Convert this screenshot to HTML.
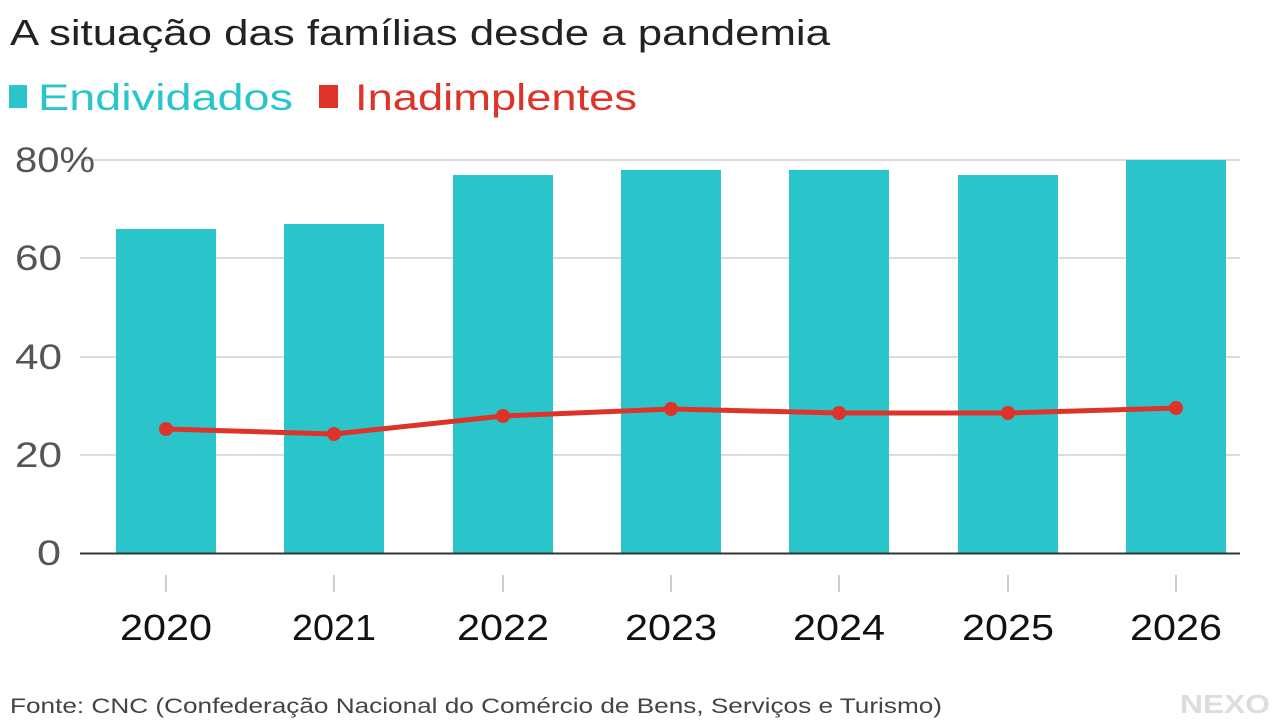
<!DOCTYPE html>
<html><head><meta charset="utf-8"><style>
html,body{margin:0;padding:0;background:#fff;width:1280px;height:720px;overflow:hidden}
svg{display:block}
text{font-family:"Liberation Sans",sans-serif}
</style></head><body>
<svg width="1280" height="720" viewBox="0 0 1280 720" xmlns="http://www.w3.org/2000/svg">
<text x="10" y="45" font-size="36" fill="#222" textLength="820" lengthAdjust="spacingAndGlyphs">A situação das famílias desde a pandemia</text>
<rect x="9" y="85" width="18" height="23" fill="#29c5cb"/>
<text x="38" y="110" font-size="37" fill="#29c5cb" textLength="255" lengthAdjust="spacingAndGlyphs">Endividados</text>
<rect x="319" y="85" width="19" height="23" fill="#dd3329"/>
<text x="355" y="110" font-size="37" fill="#dd3329" textLength="282" lengthAdjust="spacingAndGlyphs">Inadimplentes</text>
<g stroke="#dcdcdc" stroke-width="2">
<line x1="80" y1="160" x2="1240" y2="160"/>
<line x1="80" y1="258" x2="1240" y2="258"/>
<line x1="80" y1="357" x2="1240" y2="357"/>
<line x1="80" y1="455" x2="1240" y2="455"/>
</g>
<g fill="#555" font-size="35">
<text x="15" y="172" textLength="80" lengthAdjust="spacingAndGlyphs">80%</text>
<text x="15" y="270" textLength="47" lengthAdjust="spacingAndGlyphs">60</text>
<text x="15" y="369" textLength="47" lengthAdjust="spacingAndGlyphs">40</text>
<text x="15" y="467" textLength="47" lengthAdjust="spacingAndGlyphs">20</text>
<text x="37" y="565" textLength="24" lengthAdjust="spacingAndGlyphs">0</text>
</g>
<g fill="#29c5cb">
<rect x="116" y="229" width="100" height="324"/>
<rect x="284" y="224" width="100" height="329"/>
<rect x="453" y="175" width="100" height="378"/>
<rect x="621" y="170" width="100" height="383"/>
<rect x="789" y="170" width="100" height="383"/>
<rect x="958" y="175" width="100" height="378"/>
<rect x="1126" y="160" width="100" height="393"/>
</g>
<line x1="80" y1="553.5" x2="1240" y2="553.5" stroke="#333" stroke-width="2"/>
<g stroke="#ccc" stroke-width="2">
<line x1="166" y1="575" x2="166" y2="592"/><line x1="334" y1="575" x2="334" y2="592"/>
<line x1="503" y1="575" x2="503" y2="592"/><line x1="671" y1="575" x2="671" y2="592"/>
<line x1="839" y1="575" x2="839" y2="592"/><line x1="1008" y1="575" x2="1008" y2="592"/>
<line x1="1176" y1="575" x2="1176" y2="592"/>
</g>
<g fill="#111" font-size="36" text-anchor="middle">
<text x="166" y="640" textLength="92" lengthAdjust="spacingAndGlyphs">2020</text>
<text x="334" y="640" textLength="84" lengthAdjust="spacingAndGlyphs">2021</text>
<text x="503" y="640" textLength="92" lengthAdjust="spacingAndGlyphs">2022</text>
<text x="671" y="640" textLength="92" lengthAdjust="spacingAndGlyphs">2023</text>
<text x="839" y="640" textLength="92" lengthAdjust="spacingAndGlyphs">2024</text>
<text x="1008" y="640" textLength="92" lengthAdjust="spacingAndGlyphs">2025</text>
<text x="1176" y="640" textLength="92" lengthAdjust="spacingAndGlyphs">2026</text>
</g>
<polyline points="166,429 334,434 503,416 671,409 839,413 1008,413 1176,408" fill="none" stroke="#dd3329" stroke-width="5" stroke-linejoin="round"/>
<g fill="#dd3329">
<circle cx="166" cy="429" r="7"/><circle cx="334" cy="434" r="7"/><circle cx="503" cy="416" r="7"/>
<circle cx="671" cy="409" r="7"/><circle cx="839" cy="413" r="7"/><circle cx="1008" cy="413" r="7"/>
<circle cx="1176" cy="408" r="7"/>
</g>
<text x="10" y="713" font-size="21" fill="#444" textLength="932" lengthAdjust="spacingAndGlyphs">Fonte: CNC (Confederação Nacional do Comércio de Bens, Serviços e Turismo)</text>
<text x="1180" y="713" font-size="26" font-weight="bold" fill="#ddd" textLength="90" lengthAdjust="spacingAndGlyphs">NEXO</text>
</svg>
</body></html>
